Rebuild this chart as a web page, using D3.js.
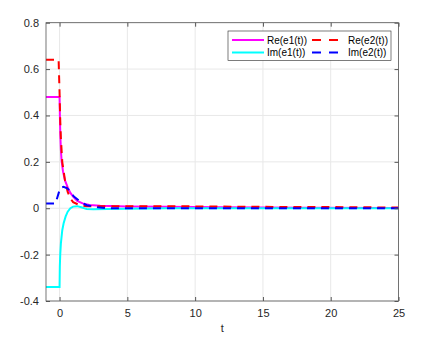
<!DOCTYPE html>
<html>
<head>
<meta charset="utf-8">
<script src="https://cdn.jsdelivr.net/npm/d3@7"></script>
<style>
  body { margin: 0; background: #fff; }
  text { font-family: "Liberation Sans", Arial, sans-serif; }
</style>
</head>
<body>
<svg id="chart" width="430" height="342"></svg>
<script>
// values
var tRe1 = [-1, 0, 0.03, 0.06, 0.1, 0.15, 0.25, 0.4, 0.6, 0.8, 1.0, 1.3, 1.7, 2.2, 3, 5, 8, 12, 18, 25];
var re1  = [0.48, 0.48, 0.38, 0.31, 0.25, 0.205, 0.16, 0.12, 0.09, 0.066, 0.05, 0.032, 0.021, 0.014, 0.011, 0.008, 0.006, 0.004, 0.002, 0.001];

var tIm1 = [-1, 0, 0.02, 0.05, 0.1, 0.2, 0.3, 0.45, 0.6, 0.8, 1.0, 1.3, 1.6, 2.0, 2.5, 3.5, 5, 8, 25];
var im1  = [-0.34, -0.34, -0.25, -0.2, -0.15, -0.095, -0.065, -0.035, -0.015, 0, 0.007, 0.009, 0.004, -0.003, -0.004, -0.003, -0.002, 0, 0];

var tRe2 = [-1, -0.07, 0, 0.05, 0.1, 0.2, 0.4, 0.6, 0.8, 1.0, 1.5, 2, 3, 6, 10, 15, 20, 25];
var re2  = [0.64, 0.64, 0.5, 0.38, 0.3, 0.2, 0.12, 0.07, 0.042, 0.026, 0.013, 0.009, 0.009, 0.009, 0.008, 0.006, 0.005, 0.003];

var tIm2 = [-1, -0.3, 0.05, 0.3, 0.6, 0.84, 1.08, 1.57, 2.0, 2.8, 3.5, 25];
var im2  = [0.02, 0.02, 0.088, 0.092, 0.085, 0.065, 0.049, 0.027, 0.013, 0.004, 0, 0];

var xTicks = [0, 5, 10, 15, 20, 25];
var yTicks = [-0.4, -0.2, 0, 0.2, 0.4, 0.6, 0.8];

var series = [
  { name: "Re(e1(t))", t: tRe1, v: re1, color: "#ff00ff", dash: null },
  { name: "Im(e1(t))", t: tIm1, v: im1, color: "#00ffff", dash: null },
  { name: "Re(e2(t))", t: tRe2, v: re2, color: "#ff0000", dash: "8,6" },
  { name: "Im(e2(t))", t: tIm2, v: im2, color: "#0000ff", dash: "8,6" }
];

var pLeft = 46, pRight = 398.5, pTop = 22.7, pBottom = 301;
var svg = d3.select("#chart");

var x = d3.scaleLinear().domain([-1, 25]).range([pLeft, pRight]);
var y = d3.scaleLinear().domain([-0.4, 0.8]).range([pBottom, pTop]);

// grid
svg.append("g").selectAll("line").data(xTicks).enter().append("line")
  .attr("x1", d => x(d)).attr("x2", d => x(d))
  .attr("y1", pTop).attr("y2", pBottom)
  .attr("stroke", "#e8e8e8").attr("stroke-width", 1);
svg.append("g").selectAll("line").data(yTicks).enter().append("line")
  .attr("x1", pLeft).attr("x2", pRight)
  .attr("y1", d => y(d)).attr("y2", d => y(d))
  .attr("stroke", "#e8e8e8").attr("stroke-width", 1);

// curves
svg.append("clipPath").attr("id", "clip").append("rect")
  .attr("x", pLeft).attr("y", pTop).attr("width", pRight - pLeft).attr("height", pBottom - pTop);

var line = d3.line().x(d => x(d[0])).y(d => y(d[1]));
var plot = svg.append("g").attr("clip-path", "url(#clip)");
series.forEach(function(s) {
  var pts = s.t.map((t, i) => [t, s.v[i]]);
  plot.append("path").datum(pts)
    .attr("d", line)
    .attr("fill", "none")
    .attr("stroke", s.color)
    .attr("stroke-width", 2)
    .attr("stroke-dasharray", s.dash);
});

// axes (MATLAB style box with inward ticks)
var axisColor = "#262626", boxColor = "#555";
var fmtY = d3.format(".1f");
function styleAxis(g) {
  g.select(".domain").remove();
  g.selectAll(".tick line").attr("stroke", boxColor);
  g.selectAll(".tick text").attr("fill", axisColor).attr("font-size", "11px")
    .attr("font-family", "'Liberation Sans', Arial, sans-serif");
}
svg.append("g").attr("transform", "translate(0," + pBottom + ")")
  .call(d3.axisBottom(x).tickValues(xTicks).tickSize(-4).tickPadding(8))
  .call(styleAxis);
svg.append("g").attr("transform", "translate(0," + pTop + ")")
  .call(d3.axisTop(x).tickValues(xTicks).tickSize(-4).tickFormat(""))
  .call(styleAxis);
svg.append("g").attr("transform", "translate(" + pLeft + ",0)")
  .call(d3.axisLeft(y).tickValues(yTicks).tickSize(-4).tickPadding(7)
    .tickFormat(d => d === 0 ? "0" : fmtY(d).replace("\u2212", "-")))
  .call(styleAxis);
svg.append("g").attr("transform", "translate(" + pRight + ",0)")
  .call(d3.axisRight(y).tickValues(yTicks).tickSize(-4).tickFormat(""))
  .call(styleAxis);

svg.append("rect")
  .attr("x", pLeft).attr("y", pTop).attr("width", pRight - pLeft).attr("height", pBottom - pTop)
  .attr("fill", "none").attr("stroke", boxColor).attr("stroke-width", 0.8);

svg.append("text").attr("x", (pLeft + pRight) / 2).attr("y", 332)
  .attr("text-anchor", "middle").attr("font-size", "11px").attr("fill", axisColor)
  .text("t");

// legend
var lg = svg.append("g");
lg.append("rect").attr("x", 228).attr("y", 31).attr("width", 163).attr("height", 29.5)
  .attr("fill", "#fff").attr("stroke", axisColor).attr("stroke-width", 0.6);
var slots = [
  { s: series[0], x: 232, y: 40 },
  { s: series[1], x: 232, y: 52.5 },
  { s: series[2], x: 312, y: 40 },
  { s: series[3], x: 312, y: 52.5 }
];
slots.forEach(function(p) {
  var len = p.s.dash ? 26 : 32;
  lg.append("line").attr("x1", p.x).attr("x2", p.x + len)
    .attr("y1", p.y).attr("y2", p.y)
    .attr("stroke", p.s.color).attr("stroke-width", 2)
    .attr("stroke-dasharray", p.s.dash ? "9,8" : null);
  lg.append("text").attr("x", p.s.dash ? 348 : 267).attr("y", p.y + 3.5)
    .attr("font-size", "10px").attr("fill", "#000").text(p.s.name);
});
</script>
</body>
</html>
